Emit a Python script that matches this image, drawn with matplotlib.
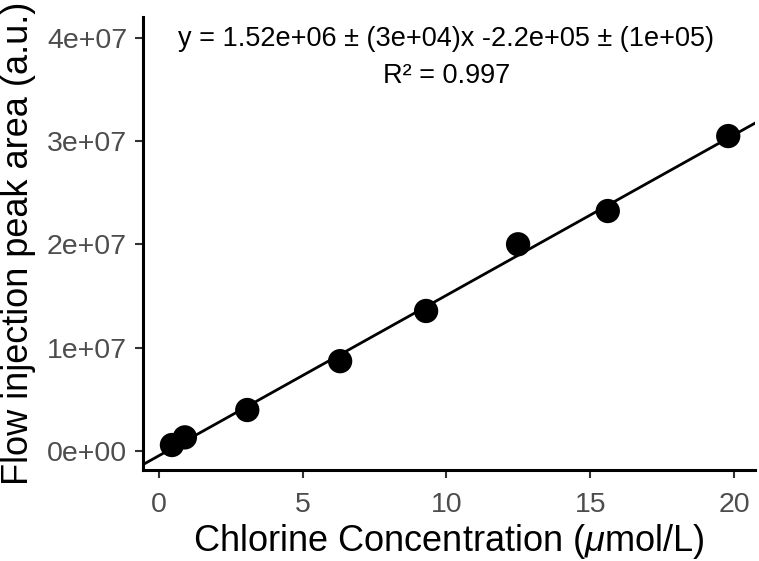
import numpy as np
import matplotlib
matplotlib.use("Agg")
import matplotlib.pyplot as plt

conc = [0.45, 0.9, 3.07, 6.3, 9.29, 12.49, 15.61, 19.8]
area = [0.58e6, 1.32e6, 3.97e6, 8.7e6, 13.56e6, 20.02e6, 23.24e6, 30.5e6]
xticks = [0, 5, 10, 15, 20]
yticks = [0, 1e7, 2e7, 3e7, 4e7]
ytick_labels = ["0e+00", "1e+07", "2e+07", "3e+07", "4e+07"]
eq_text = "y = 1.52e+06 ± (3e+04)x -2.2e+05 ± (1e+05)"
r2_text = "R² = 0.997"

plt.rcParams['font.family'] = ['Liberation Sans', 'DejaVu Sans']
plt.rcParams['mathtext.fontset'] = 'custom'
plt.rcParams['mathtext.it'] = 'Liberation Sans:italic'
plt.rcParams['mathtext.rm'] = 'Liberation Sans'

fig = plt.figure(figsize=(7.59, 5.61), dpi=100)
ax = fig.add_axes([0.1884, 0.1622, 0.8063, 0.8075])

xlim = (-0.557, 20.73)
ylim = (-1.84e6, 4.203e7)
ax.set_xlim(xlim)
ax.set_ylim(ylim)

slope, intercept = np.polyfit(conc, area, 1)
xs = np.array(xlim)
ax.plot(xs, slope * xs + intercept, color='black', lw=2.0, zorder=2)
ax.scatter(conc, area, s=17.5**2, color='black', zorder=3, edgecolors='none')

ax.text(10.0, 3.99e7, eq_text, ha='center', va='center', fontsize=19.5, color='black')
ax.text(10.0, 3.63e7, r2_text, ha='center', va='center', fontsize=19.5, color='black')

ax.set_xticks(xticks)
ax.set_xticklabels([str(t) for t in xticks])
ax.set_yticks(yticks)
ax.set_yticklabels(ytick_labels)
ax.tick_params(axis='both', labelsize=20.5, labelcolor='#4D4D4D', color='#333333',
               length=5.5, width=1.5, direction='out')
ax.tick_params(axis='x', pad=10)
ax.tick_params(axis='y', pad=6)

for s in ['top', 'right']:
    ax.spines[s].set_visible(False)
for s in ['left', 'bottom']:
    ax.spines[s].set_linewidth(2.2)
    ax.spines[s].set_color('black')

ax.set_xlabel(r"Chlorine Concentration ($\mu$mol/L)", fontsize=26, labelpad=3.5)
ax.set_ylabel("Flow injection peak area (a.u.)", fontsize=26, labelpad=7.5)

fig.savefig("out.png", dpi=100)
